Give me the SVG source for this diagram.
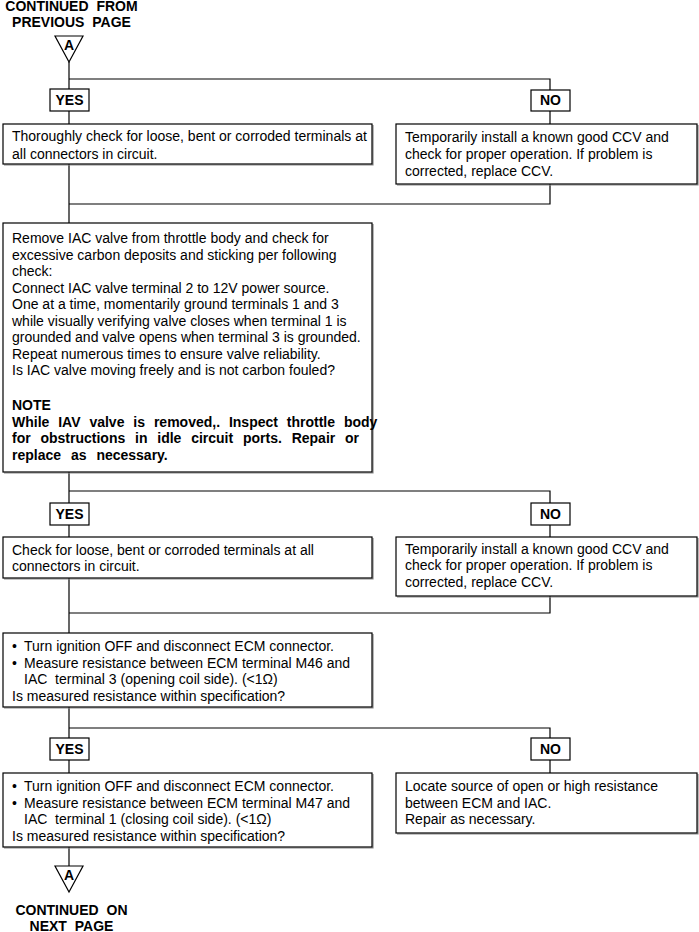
<svg xmlns="http://www.w3.org/2000/svg" width="699" height="932" viewBox="0 0 699 932">
<style>
.box{fill:#fff;stroke:#000;stroke-width:1.2}
.sh{fill:none;stroke:#888;stroke-width:1.2}
.t{font-family:"Liberation Sans",Arial,sans-serif;font-size:14px;fill:#000}
.b{font-family:"Liberation Sans",Arial,sans-serif;font-size:14px;font-weight:bold;fill:#000}
.c{fill:none;stroke:#000;stroke-width:1.2}
</style>
<rect width="699" height="932" fill="#fff"/>
<g id="connectors">
<polyline class="c" points="69,62 69,124"/>
<polyline class="c" points="69,79 550,79 550,124"/>
<polyline class="c" points="69,164 69,223"/>
<polyline class="c" points="550,184 550,204 69,204"/>
<polyline class="c" points="69,472 69,537"/>
<polyline class="c" points="69,491 550,491 550,537"/>
<polyline class="c" points="69,578 69,633"/>
<polyline class="c" points="550,596 550,613 69,613"/>
<polyline class="c" points="69,707 69,773"/>
<polyline class="c" points="69,728 550,728 550,773"/>
<polyline class="c" points="69,847 69,866"/>
</g>
<g id="start">
<text class="b" x="71.5" y="10.5" text-anchor="middle" word-spacing="4">CONTINUED FROM</text>
<text class="b" x="71.5" y="26.5" text-anchor="middle" word-spacing="4">PREVIOUS PAGE</text>
<polygon class="box" points="55,36 83,36 69,62"/>
<text class="b" x="69" y="50" text-anchor="middle" font-size="12">A</text>
</g>
<g id="yes1"><rect class="box" x="50" y="89" width="39" height="22"/><text class="b" x="69.5" y="105" text-anchor="middle">YES</text></g>
<g id="no1"><rect class="box" x="531" y="90" width="39" height="21"/><text class="b" x="550.5" y="105" text-anchor="middle">NO</text></g>
<g id="check1">
<polyline class="sh" points="373,125 373,165 4,165"/>
<rect class="box" x="3" y="124" width="369" height="40"/>
<text class="t" x="12" y="141">Thoroughly check for loose, bent or corroded terminals at</text>
<text class="t" x="12" y="158.5">all connectors in circuit.</text>
</g>
<g id="ccv1">
<polyline class="sh" points="698,125 698,185 397,185"/>
<rect class="box" x="396" y="124" width="301" height="60"/>
<text class="t" x="405" y="142">Temporarily install a known good CCV and</text>
<text class="t" x="405" y="159">check for proper operation. If problem is</text>
<text class="t" x="405" y="176">corrected, replace CCV.</text>
</g>
<g id="remove">
<polyline class="sh" points="373,224 373,473 4,473"/>
<rect class="box" x="3" y="223" width="369" height="249"/>
<text class="t" x="12" y="243">Remove IAC valve from throttle body and check for</text>
<text class="t" x="12" y="259.5">excessive carbon deposits and sticking per following</text>
<text class="t" x="12" y="276">check:</text>
<text class="t" x="12" y="292.5">Connect IAC valve terminal 2 to 12V power source.</text>
<text class="t" x="12" y="309">One at a time, momentarily ground terminals 1 and 3</text>
<text class="t" x="12" y="325.5">while visually verifying valve closes when terminal 1 is</text>
<text class="t" x="12" y="342">grounded and valve opens when terminal 3 is grounded.</text>
<text class="t" x="12" y="358.5">Repeat numerous times to ensure valve reliability.</text>
<text class="t" x="12" y="375">Is IAC valve moving freely and is not carbon fouled?</text>
<text class="b" x="12" y="410">NOTE</text>
<text class="b" x="12" y="426.5" word-spacing="5">While IAV valve is removed,. Inspect throttle body</text>
<text class="b" x="12" y="443" word-spacing="5.9">for obstructions in idle circuit ports. Repair or</text>
<text class="b" x="12" y="459.5" word-spacing="6">replace as necessary.</text>
</g>
<g id="yes2"><rect class="box" x="50" y="503" width="39" height="22"/><text class="b" x="69.5" y="519" text-anchor="middle">YES</text></g>
<g id="no2"><rect class="box" x="531" y="503" width="39" height="22"/><text class="b" x="550.5" y="519" text-anchor="middle">NO</text></g>
<g id="check2">
<polyline class="sh" points="373,538 373,579 4,579"/>
<rect class="box" x="3" y="537" width="369" height="41"/>
<text class="t" x="12" y="554.5">Check for loose, bent or corroded terminals at all</text>
<text class="t" x="12" y="571">connectors in circuit.</text>
</g>
<g id="ccv2">
<polyline class="sh" points="698,538 698,597 397,597"/>
<rect class="box" x="396" y="537" width="301" height="59"/>
<text class="t" x="405" y="553.5">Temporarily install a known good CCV and</text>
<text class="t" x="405" y="570">check for proper operation. If problem is</text>
<text class="t" x="405" y="586.5">corrected, replace CCV.</text>
</g>
<g id="measure1">
<polyline class="sh" points="373,634 373,708 4,708"/>
<rect class="box" x="3" y="633" width="369" height="74"/>
<text class="t" x="12" y="651">•</text><text class="t" x="24" y="651">Turn ignition OFF and disconnect ECM connector.</text>
<text class="t" x="12" y="667.5">•</text><text class="t" x="24" y="667.5">Measure resistance between ECM terminal M46 and</text>
<text class="t" x="24" y="684" xml:space="preserve">IAC  terminal 3 (opening coil side). (&lt;1Ω)</text>
<text class="t" x="12" y="700.5">Is measured resistance within specification?</text>
</g>
<g id="yes3"><rect class="box" x="50" y="738" width="39" height="22"/><text class="b" x="69.5" y="754" text-anchor="middle">YES</text></g>
<g id="no3"><rect class="box" x="531" y="738" width="39" height="22"/><text class="b" x="550.5" y="754" text-anchor="middle">NO</text></g>
<g id="measure2">
<polyline class="sh" points="373,774 373,848 4,848"/>
<rect class="box" x="3" y="773" width="369" height="74"/>
<text class="t" x="12" y="791">•</text><text class="t" x="24" y="791">Turn ignition OFF and disconnect ECM connector.</text>
<text class="t" x="12" y="807.5">•</text><text class="t" x="24" y="807.5">Measure resistance between ECM terminal M47 and</text>
<text class="t" x="24" y="824" xml:space="preserve">IAC  terminal 1 (closing coil side). (&lt;1Ω)</text>
<text class="t" x="12" y="840.5">Is measured resistance within specification?</text>
</g>
<g id="locate">
<polyline class="sh" points="698,774 698,834 397,834"/>
<rect class="box" x="396" y="773" width="301" height="60"/>
<text class="t" x="405" y="791">Locate source of open or high resistance</text>
<text class="t" x="405" y="807.5">between ECM and IAC.</text>
<text class="t" x="405" y="824">Repair as necessary.</text>
</g>
<g id="end">
<polygon class="box" points="55,866 83,866 69,892"/>
<text class="b" x="69" y="880" text-anchor="middle" font-size="12">A</text>
<text class="b" x="71.5" y="915" text-anchor="middle" word-spacing="4">CONTINUED ON</text>
<text class="b" x="71.5" y="930.5" text-anchor="middle" word-spacing="4">NEXT PAGE</text>
</g>
</svg>
